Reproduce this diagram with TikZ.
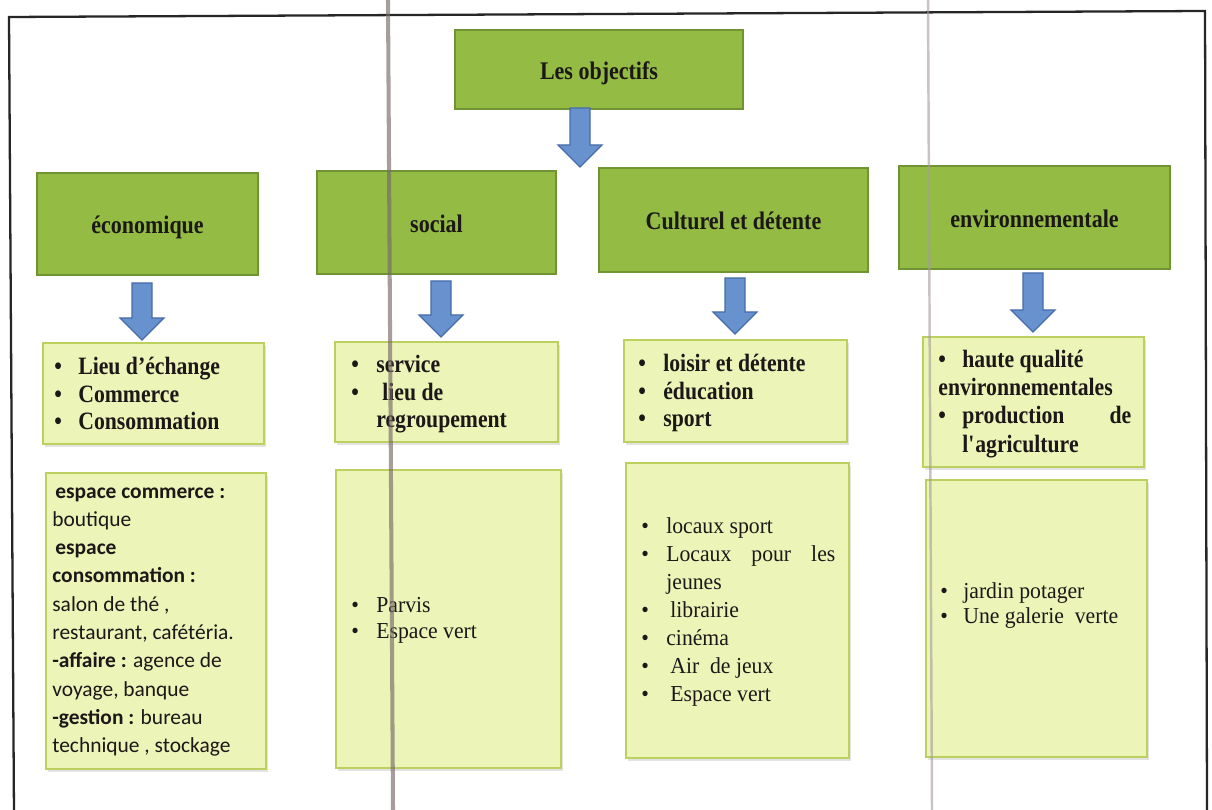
\documentclass[tikz,border=0pt]{standalone}
\usepackage{fontspec}
\setmainfont{Liberation Serif}
\newfontfamily\hfont[FakeStretch=0.87]{Liberation Serif}
\newfontfamily\tfont[FakeStretch=0.95]{Liberation Serif}
\newfontfamily\cfont{Carlito}
\usetikzlibrary{shadows}
\definecolor{hdrfill}{RGB}{148,188,68}
\definecolor{hdrdraw}{RGB}{112,148,52}
\definecolor{litefill}{RGB}{236,244,184}
\definecolor{litedraw}{RGB}{188,208,96}
\definecolor{arrfill}{RGB}{104,146,206}
\definecolor{arrdraw}{RGB}{70,108,168}
\definecolor{ink}{RGB}{28,24,24}
\definecolor{scanA}{RGB}{120,105,105}
\definecolor{scanB}{RGB}{165,155,155}
\newcommand\blockarrow[3]{%
  \draw[barrow] (#1-10,#2) -- (#1+10,#2) -- (#1+10,#3-22) -- (#1+22,#3-22)
    -- (#1,#3) -- (#1-22,#3-22) -- (#1-10,#3-22) -- cycle;}
\begin{document}
\begin{tikzpicture}[x=0.02cm,y=-0.02cm,
  hdr/.style={draw=hdrdraw, fill=hdrfill, line width=0.9pt, inner sep=0pt,
    font=\hfont\bfseries\fontsize{14.4}{17}\selectfont, text=ink,
    text height=11pt, text depth=0pt},
  lite/.style={draw=litedraw, fill=litefill, line width=0.8pt, inner sep=0pt,
    drop shadow={opacity=0.22, shadow xshift=1.2pt, shadow yshift=-1.5pt}},
  blist/.style={anchor=base west, inner sep=0pt, text=ink,
    font=\hfont\bfseries\fontsize{14.2}{15.6}\selectfont},
  tlist/.style={anchor=base west, inner sep=0pt, text=ink,
    font=\tfont\fontsize{13}{16}\selectfont},
  clist/.style={anchor=base west, inner sep=0pt, text=ink,
    font=\cfont\fontsize{12.2}{16.1}\selectfont},
  barrow/.style={fill=arrfill, draw=arrdraw, line width=0.7pt, line join=miter},
  frame/.style={draw=black!85, line width=1.3pt},
  scanlineA/.style={draw=scanA, line width=2.3pt, opacity=0.65},
  scanlineB/.style={draw=scanB, line width=1.4pt, opacity=0.6}]
\useasboundingbox (0,0) rectangle (1212,810);
\fill[white] (0,0) rectangle (1212,810);
% frame
\draw[frame] (14,815) -- (9,17) -- (1205,11) -- (1207,815);
% header boxes
\node[hdr, minimum width=5.76cm, minimum height=1.58cm] (obj) at (599,69.5) {Les objectifs};
\node[hdr, minimum width=4.42cm, minimum height=2.04cm] (eco) at (147.5,224) {économique};
\node[hdr, minimum width=4.78cm, minimum height=2.06cm] (soc) at (436.5,222.5) {social};
\node[hdr, minimum width=5.38cm, minimum height=2.08cm] (cul) at (733.5,220) {Culturel et détente};
\node[hdr, minimum width=5.42cm, minimum height=2.06cm] (env) at (1034.5,217.5) {environnementale};
% light boxes
\node[lite, minimum width=4.42cm, minimum height=2.02cm] (ecoB) at (153.5,393.5) {};
\node[lite, minimum width=4.46cm, minimum height=2.0cm] (socB) at (446.5,392) {};
\node[lite, minimum width=4.46cm, minimum height=2.04cm] (culB) at (735.5,391) {};
\node[lite, minimum width=4.42cm, minimum height=2.6cm] (envB) at (1033.5,402) {};
\node[lite, minimum width=4.40cm, minimum height=5.92cm] (ecoL) at (156,621) {};
\node[lite, minimum width=4.5cm, minimum height=5.96cm] (socL) at (448.5,619) {};
\node[lite, minimum width=4.46cm, minimum height=5.9cm] (culL) at (737.5,610.5) {};
\node[lite, minimum width=4.42cm, minimum height=5.54cm] (envL) at (1036.5,618.5) {};
% bold bullet lists
\node[blist] (ecoT) at (54,375) {\begin{tabular}[t]{@{}p{0.48cm}@{}l@{}}
  • & Lieu d’échange\\ • & Commerce\\ • & Consommation\end{tabular}};
\node[blist] (socT) at (351,373) {\begin{tabular}[t]{@{}p{0.5cm}@{}l@{}}
  • & service\\ • & \hspace{0.12cm}lieu de\\ & regroupement\end{tabular}};
\node[blist] (culT) at (638,372) {\begin{tabular}[t]{@{}p{0.5cm}@{}l@{}}
  • & loisir et détente\\ • & éducation\\ • & sport\end{tabular}};
\node[blist, font=\hfont\bfseries\fontsize{14.2}{16.2}\selectfont] (envT) at (938,367) {\begin{tabular}[t]{@{}p{0.48cm}@{}l@{}}
  • & haute qualité\\ \multicolumn{2}{@{}l@{}}{environnementales}\\
  • & \makebox[3.38cm][s]{production de}\\ & l\textquotesingle agriculture\end{tabular}};
% lower lists
\node[clist] (ecoD) at (52,498) {\begin{tabular}[t]{@{}l@{}}
  \hspace{0.06cm}\textbf{espace commerce :}\\
  boutique\\
  \hspace{0.06cm}\textbf{espace}\\
  \textbf{consommation :}\\
  salon de thé ,\\
  restaurant, cafétéria.\\
  \textbf{-affaire :} agence de\\
  voyage, banque\\
  \textbf{-gestion :} bureau\\
  technique , stockage\end{tabular}};
\node[tlist, font=\tfont\fontsize{13}{15}\selectfont] (socD) at (351,612) {\begin{tabular}[t]{@{}p{0.5cm}@{}l@{}}
  • & Parvis\\ • & Espace vert\end{tabular}};
\node[tlist] (culD) at (641,533) {\begin{tabular}[t]{@{}p{0.5cm}@{}l@{}}
  • & locaux sport\\ • & \makebox[3.38cm][s]{Locaux pour les}\\ & jeunes\\
  • & \hspace{0.08cm}librairie\\ • & cinéma\\ • & \hspace{0.08cm}Air\ \ de jeux\\
  • & \hspace{0.08cm}Espace vert\end{tabular}};
\node[tlist, font=\tfont\fontsize{13}{14.7}\selectfont] (envD) at (940,598) {\begin{tabular}[t]{@{}p{0.46cm}@{}l@{}}
  • & jardin potager\\ • & Une galerie\ \ verte\end{tabular}};
% block arrows
\blockarrow{580}{108}{167}
\blockarrow{142}{283}{340}
\blockarrow{441}{281}{337}
\blockarrow{735}{278}{334}
\blockarrow{1033}{273}{332}
% scan lines
\draw[scanlineA] (388,0) -- (393,810);
\draw[scanlineB] (928,0) -- (932,810);
\end{tikzpicture}
\end{document}
